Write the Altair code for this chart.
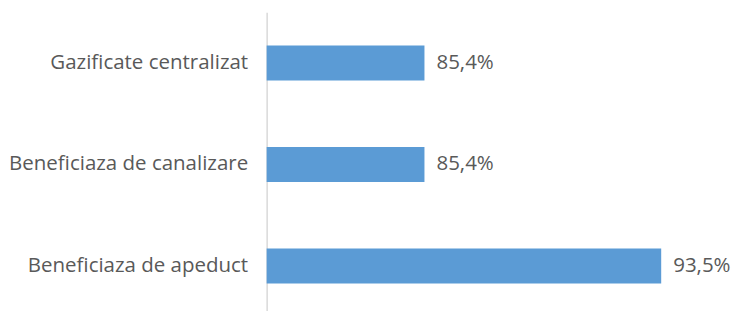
import altair as alt
import pandas as pd

categories = ["Gazificate centralizat", "Beneficiaza de canalizare", "Beneficiaza de apeduct"]
values = [85.4, 85.4, 93.5]

df = pd.DataFrame({"cat": categories, "v": values})

base = alt.Chart(df).transform_calculate(
    base="80",
    lbl="replace(format(datum.v, '.1f'), '.', ',') + '%'"
)

y = alt.Y("cat:N", sort=categories, title=None,
          scale=alt.Scale(paddingInner=0.655, paddingOuter=0.3275),
          axis=alt.Axis(domain=True, domainColor="#d9d9d9", domainWidth=1.5, ticks=False,
                        labelFont="Open Sans", labelFontSize=20.5, labelColor="#595959",
                        labelPadding=19, labelLimit=400, grid=False))

x = alt.X("v:Q", title=None, scale=alt.Scale(domain=[80, 95], zero=False, nice=False),
          axis=None)

bars = base.mark_bar(color="#5B9BD5").encode(y=y, x=x, x2="base:Q")
text = base.mark_text(align="left", baseline="middle", dx=12, font="Open Sans",
                      fontSize=20.5, color="#595959").encode(y=y, x=x, text="lbl:N")

chart = (bars + text).properties(
    width=439, height=305,
    padding={"left": 0, "top": 4, "right": 0, "bottom": 0},
    background="white"
).configure_view(strokeWidth=0, stroke=None)

chart.save("out.html", embed_options={"renderer": "svg", "actions": False})
